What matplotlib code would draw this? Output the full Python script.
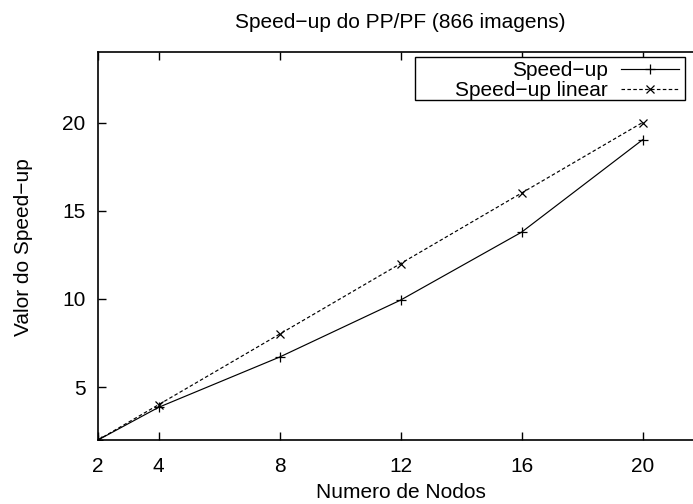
import matplotlib
matplotlib.use("Agg")
import matplotlib.pyplot as plt
from matplotlib.patches import Rectangle

nodos = [2, 4, 8, 12, 16, 20]
speedup = [2.0, 3.85, 6.7, 9.93, 13.78, 19.02]
speedup_linear = [2, 4, 8, 12, 16, 20]
xticks = [2, 4, 8, 12, 16, 20]
yticks = [5, 10, 15, 20]

plt.rcParams['font.family'] = ['Liberation Sans', 'DejaVu Sans']

W, H = 693, 504
fig = plt.figure(figsize=(W / 100, H / 100), dpi=100)
ax = fig.add_axes([98 / W, 1 - 440 / H, 605 / W, 388 / H])

ax.plot(nodos, speedup, color='black', lw=0.85, marker='+', ms=7, mew=0.9,
        label='Speed\u2212up')
ax.plot(nodos, speedup_linear, color='black', lw=0.85, ls=(0, (3, 2)), marker='x',
        ms=6, mew=0.9, label='Speed\u2212up linear')

ax.set_xlim(2, 22)
ax.set_ylim(2, 24)
ax.set_xticks(xticks)
ax.set_yticks(yticks)
ax.tick_params(direction='in', length=6, width=1, top=True, right=True,
               labelsize=15, colors='black')
ax.tick_params(axis='x', pad=12)
ax.tick_params(axis='y', pad=9)
for s in ax.spines.values():
    s.set_linewidth(1.2)

fs = 15
fig.text(400 / W, 1 - 22 / H, 'Speed\u2212up do PP/PF (866 imagens)', fontsize=fs,
         ha='center', va='center')
fig.text(401 / W, 1 - 492 / H, 'Numero de Nodos', fontsize=fs,
         ha='center', va='center')
fig.text(24 / W, 1 - 247 / H, 'Valor do Speed\u2212up', fontsize=fs,
         ha='center', va='center', rotation=90)

# legend (gnuplot style: text right-aligned, sample on the right)
ax.add_patch(Rectangle((415 / W, 1 - 100 / H), 270 / W, 43 / H,
                       transform=fig.transFigure, facecolor='white',
                       edgecolor='black', lw=1.0, zorder=4, clip_on=False))
leg = ax.legend(loc='upper right', bbox_to_anchor=(679 / W, 1 - 61 / H),
                bbox_transform=fig.transFigure,
                markerfirst=False, frameon=False,
                fontsize=fs, handlelength=2.8, borderpad=0.0, labelspacing=0.05,
                handletextpad=0.6, borderaxespad=0.0)
leg.set_zorder(6)
for t in leg.get_texts():
    t.set_ha('right')
leg._legend_box.align = 'right'

fig.savefig('out.png', dpi=100)
